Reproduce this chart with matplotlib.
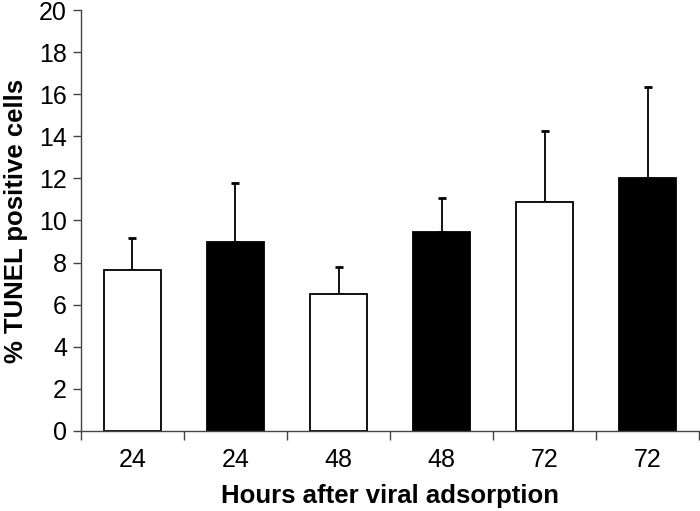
import matplotlib.pyplot as plt

plt.rcParams['font.family'] = ['Liberation Sans', 'DejaVu Sans']

labels = ['24', '24', '48', '48', '72', '72']
values = [7.64, 8.97, 6.50, 9.47, 10.87, 12.01]
err_top = [9.19, 11.79, 7.78, 11.09, 14.27, 16.36]
colors = ['white', 'black', 'white', 'black', 'white', 'black']

errors = [t - v for t, v in zip(err_top, values)]
x = list(range(len(values)))

fig = plt.figure(figsize=(7, 5.11), dpi=100)
ax = fig.add_axes([0.1157, 0.1566, 0.8829, 0.8238])

ax.bar(x, values, width=0.56, color=colors, edgecolor='black', linewidth=1.3, zorder=2)
ax.errorbar(x, values, yerr=[[0] * len(values), errors], fmt='none',
            ecolor='black', elinewidth=1.3, capsize=3, capthick=2, zorder=1)

ax.set_xlim(-0.5, 5.5)
ax.set_ylim(0, 20)
ax.set_yticks(range(0, 21, 2))
ax.set_xticks(x)
ax.set_xticklabels(labels)
ax.set_xticks([i - 0.5 for i in range(len(values) + 1)], minor=True)
ax.tick_params(axis='x', which='major', length=0, pad=12, labelsize=18)
ax.tick_params(axis='x', which='minor', length=6.5, width=1, color='#444444', direction='out')
ax.tick_params(axis='y', length=6, width=1, color='#444444', labelsize=18, pad=4)

for s in ['top', 'right']:
    ax.spines[s].set_visible(False)
for s in ['left', 'bottom']:
    ax.spines[s].set_color('#444444')
    ax.spines[s].set_linewidth(1)

ax.set_xlabel('Hours after viral adsorption', fontsize=18.5, fontweight='bold', labelpad=9)
ax.set_ylabel('% TUNEL positive cells', fontsize=18.5, fontweight='bold', labelpad=8)

fig.savefig('out.png', dpi=100)
